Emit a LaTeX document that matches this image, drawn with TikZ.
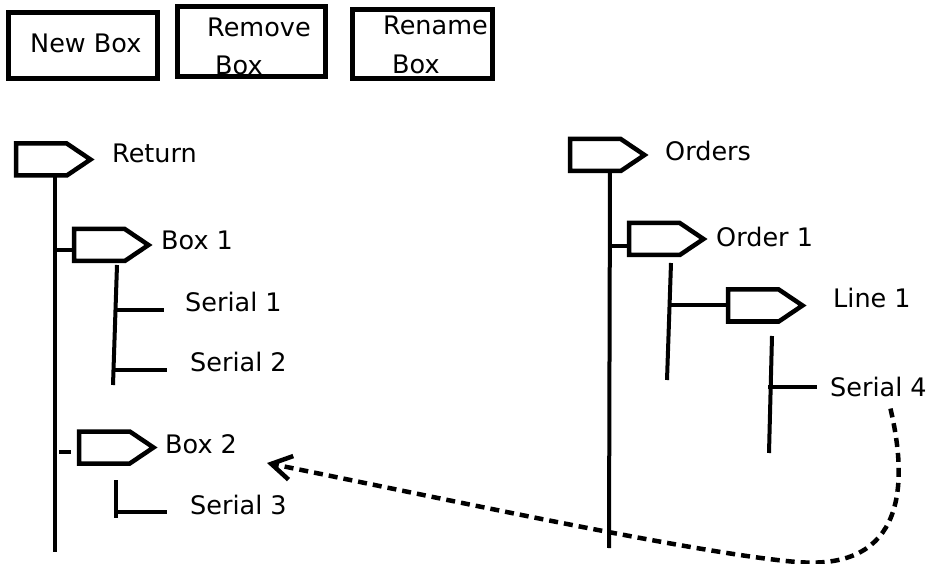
\documentclass[tikz,border=0pt]{standalone}
\usepackage{fontspec}
\setmainfont{DejaVu Sans}
\usetikzlibrary{shapes.symbols,arrows.meta,calc}
\begin{document}
\begin{tikzpicture}[x=1pt,y=-1pt,
  lbl/.style={font=\fontsize{25.5}{30}\selectfont, inner sep=0pt, anchor=base west},
  btn/.style={draw, line width=5pt, inner sep=0pt, outer sep=0pt},
  tag/.style={draw, line width=4.5pt, shape=signal, signal to=east, signal pointer angle=68,
    minimum width=74.5pt, minimum height=32pt, inner sep=0pt, outer sep=0pt, anchor=west, line join=miter},
  stem/.style={line width=4pt},
  link/.style={line width=4.5pt, dash pattern=on 9pt off 6pt,
    -{Straight Barb[length=20pt,width=24pt]}}
]
\useasboundingbox (0,0) rectangle (927,564);

% buttons
\node[btn, minimum width=149pt, minimum height=66pt] (newbtn) at (83,45.5) {};
\node[lbl] (newtxt) at (30,53) {New Box};
\node[btn, minimum width=148pt, minimum height=70pt] (rembtn) at (251.5,41.5) {};
\node[lbl] (remtxta) at (207,37) {Remove};
\node[lbl] (remtxtb) at (215,75) {Box};
\node[btn, minimum width=140pt, minimum height=69pt] (renbtn) at (422.5,44) {};
\node[lbl] (rentxta) at (383,35) {Rename};
\node[lbl] (rentxtb) at (392,74) {Box};

% tags
\node[tag] (ret) at (16,159.5) {};
\node[tag] (b1) at (74,245) {};
\node[tag] (b2) at (79,447.5) {};
\node[tag] (ord) at (570,155) {};
\node[tag] (o1) at (629,239) {};
\node[tag] (l1) at (728,305.5) {};

% labels
\node[lbl] (retl) at (112,163) {Return};
\node[lbl] (b1l) at (161,250) {Box 1};
\node[lbl] (s1) at (185,312) {Serial 1};
\node[lbl] (s2) at (190,371) {Serial 2};
\node[lbl] (b2l) at (165,453) {Box 2};
\node[lbl] (s3) at (190,514) {Serial 3};
\node[lbl] (ordl) at (665,161) {Orders};
\node[lbl] (o1l) at (716,247) {Order 1};
\node[lbl] (l1l) at (833,308) {Line 1};
\node[lbl] (s4) at (830,396) {Serial 4};

% left tree
\coordinate (retEnd) at (55,552);
\draw[stem] ($(ret.south west)+(39,0)$) -- (retEnd);
\draw[stem] ($(b1.west)+(0,5)$) -- ($(b1.west)+(-19,5)$);
\coordinate (b1End) at (113,385);
\draw[stem] ($(b1.south west)+(43,4)$) -- (b1End);
\coordinate (s1j) at (116.5,310);
\draw[stem] (s1j) -- ++(47,0);
\coordinate (s2j) at (114.5,370);
\draw[stem] (s2j) -- ++(52,0);
\draw[stem] ($(b2.west)+(-20,4.5)$) -- ($(b2.west)+(-8,4.5)$);
\coordinate (b2End) at (116,518);
\draw[stem] ($(b2.south west)+(37,16.5)$) -- (b2End);
\coordinate (s3j) at (116,512);
\draw[stem] (s3j) -- ++(51,0);

% right tree
\coordinate (ordEnd) at (609,548);
\draw[stem] ($(ord.south west)+(40,0)$) -- (ordEnd);
\draw[stem] ($(o1.west)+(0,7)$) -- ($(o1.west)+(-19,7)$);
\coordinate (o1End) at (667,380);
\draw[stem] ($(o1.south west)+(42,8)$) -- (o1End);
\coordinate (o1j) at (669.5,305.5);
\draw[stem] (o1j) -- (l1.west);
\coordinate (l1End) at (769,453);
\draw[stem] ($(l1.south west)+(44,14.5)$) -- (l1End);
\coordinate (s4j) at (768,387);
\draw[stem] (s4j) -- ++(49,0);

% dashed move link
\coordinate (linkStart) at ($(s4.south)+(12,12)$);
\coordinate (linkEnd) at (267,463);
\draw[link] (linkStart) .. controls (912,500) and (895,570) .. (797,562)
  .. controls (699,554) and (450,500) .. (linkEnd);
\end{tikzpicture}
\end{document}
